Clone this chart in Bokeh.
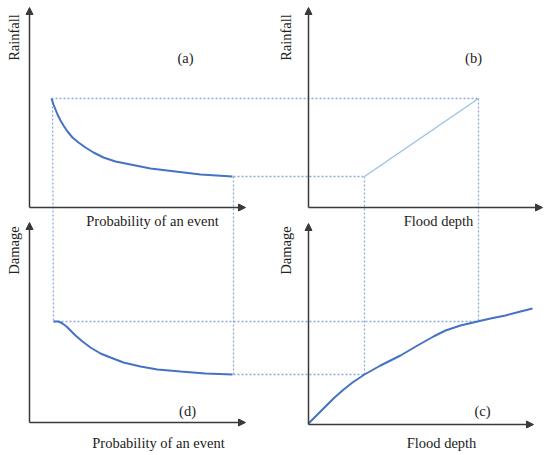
import numpy as np
from bokeh.plotting import figure
from bokeh.models import Range1d, Arrow, NormalHead, ColumnDataSource
from bokeh.core.properties import value
from bokeh.embed import file_html
from bokeh.resources import INLINE

# ---- data (diagram coordinates, y grows downward) ----
# panel (a): rainfall vs probability of an event
curve_a_x = [51, 53, 55, 57, 60, 63, 67, 72, 78, 85, 93, 103, 115, 130, 150, 175, 200, 232]
curve_a_y = [98, 104, 109, 114, 120, 125, 131, 137, 142, 147, 152, 157, 161, 164, 168, 171, 174, 176]
# panel (b): rainfall vs flood depth
line_b_x = [364, 478]
line_b_y = [176, 98]
# panel (c): damage vs flood depth
curve_c_x = [308, 318, 326, 333, 342, 352, 364, 380, 400, 417, 433, 445, 460, 477, 490, 505, 520, 532]
curve_c_y = [423, 413, 405, 398, 390, 382, 374, 365, 355, 345, 336, 330, 325, 321, 318, 315, 311, 308]
# panel (d): damage vs probability of an event
curve_d_x = [53, 58, 62, 66, 70, 75, 82, 90, 100, 110, 123, 140, 157, 180, 205, 232]
curve_d_y = [321, 321, 323, 326, 330, 335, 341, 347, 353, 357, 362, 366, 369, 371, 373, 374]

# axes: origin and arrow tips of each panel
axis_ox = [29, 308, 29, 308]
axis_oy = [207, 207, 422, 424]
axis_top = [7, 7, 222, 223]
axis_right = [245, 542, 245, 533]

ylabels = ["Rainfall", "Rainfall", "Damage", "Damage"]
ylabel_x = [13, 285, 13, 285]
ylabel_y = [37, 37, 250, 250]
xlabels = ["Probability of an event", "Flood depth", "Probability of an event", "Flood depth"]
xlabel_x = [152, 438, 158, 441]
xlabel_y = [220, 220, 442, 442]
tags = ["(a)", "(b)", "(d)", "(c)"]
tag_x = [185, 473, 187, 482]
tag_y = [57, 57, 410, 410]

FONT = value("Liberation Serif")
TXT = "#222222"
AX = "#3a3a3a"
CURVE = "#4472C4"
GUIDE = "#8EA9DB"

p = figure(width=550, height=455, x_range=Range1d(0, 550), y_range=Range1d(455, 0),
           output_backend="svg", toolbar_location=None, min_border=0)
p.axis.visible = False
p.grid.visible = False
p.outline_line_color = None
p.background_fill_color = "white"

# guide lines (built from curve end points)
a0 = (curve_a_x[0], curve_a_y[0]); a1 = (curve_a_x[-1], curve_a_y[-1])
b0 = (line_b_x[0], line_b_y[0]); b1 = (line_b_x[-1], line_b_y[-1])
d0 = (curve_d_x[0], curve_d_y[0]); d1 = (curve_d_x[-1], curve_d_y[-1])
i_lo = curve_c_x.index(b0[0]); i_hi = curve_c_x.index(b1[0] - 1)
c_lo = (curve_c_x[i_lo], curve_c_y[i_lo]); c_hi = (curve_c_x[i_hi], curve_c_y[i_hi])
gx = [[a0[0], b1[0]], [a0[0] + 1, d0[0]], [a1[0] + 1, b0[0]], [a1[0] + 1, d1[0] + 1],
      [b0[0], c_lo[0]], [b1[0], b1[0]], [d0[0], c_hi[0]], [d1[0] + 1, c_lo[0]]]
gy = [[a0[1], b1[1]], [a0[1], d0[1]], [a1[1], b0[1]], [a1[1], d1[1]],
      [b0[1], c_lo[1]], [b1[1], c_hi[1]], [d0[1], c_hi[1]], [d1[1], c_lo[1]]]
p.multi_line(gx, gy, line_color=GUIDE, line_width=1.3, line_dash="2 2")

# curves
p.line(curve_a_x, curve_a_y, line_color=CURVE, line_width=2)
p.line(line_b_x, line_b_y, line_color="#9DC3E6", line_width=1.5)
p.line(curve_c_x, curve_c_y, line_color=CURVE, line_width=2)
p.line(curve_d_x, curve_d_y, line_color=CURVE, line_width=2)

# axes with arrow heads
src_v = ColumnDataSource(dict(x0=axis_ox, y0=axis_oy, x1=axis_ox, y1=axis_top))
src_h = ColumnDataSource(dict(x0=axis_ox, y0=axis_oy, x1=axis_right, y1=axis_oy))
for src in (src_v, src_h):
    p.add_layout(Arrow(end=NormalHead(size=7, fill_color=AX, line_color=AX),
                       x_start="x0", y_start="y0", x_end="x1", y_end="y1",
                       line_color=AX, line_width=1.5, source=src))

# texts
p.text(ylabel_x, ylabel_y, text=ylabels, angle=np.pi / 2, text_font=FONT,
       text_font_size="14.5px", text_color=TXT, text_align="center", text_baseline="middle")
p.text(xlabel_x, xlabel_y, text=xlabels, text_font=FONT,
       text_font_size="14.5px", text_color=TXT, text_align="center", text_baseline="middle")
p.text(tag_x, tag_y, text=tags, text_font=FONT,
       text_font_size="14.5px", text_color=TXT, text_align="center", text_baseline="middle")

open("out.html", "w").write(file_html(p, INLINE))
